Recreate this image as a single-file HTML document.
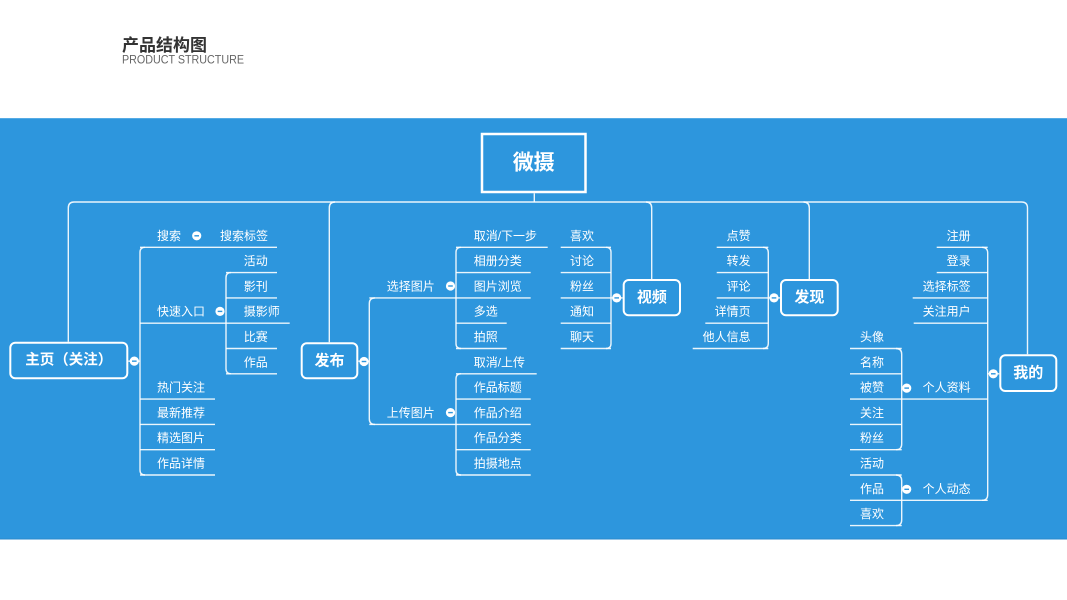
<!DOCTYPE html>
<html>
<head>
<meta charset="utf-8">
<style>
  html,body{margin:0;padding:0;background:#fff;}
  body{width:1067px;height:600px;overflow:hidden;}
  svg{display:block;}
  .t{font-family:"Liberation Sans","Noto Sans CJK SC",sans-serif;font-size:12px;fill:#fff;dominant-baseline:central;}
  .b{font-family:"Liberation Sans","Noto Sans CJK SC",sans-serif;font-size:15px;font-weight:bold;fill:#fff;dominant-baseline:central;text-anchor:middle;}
  .e{text-anchor:end;}
  .ln{stroke:#fff;stroke-opacity:.9;stroke-width:1.4;fill:none;}
  .bx{stroke:#fff;stroke-width:2;fill:none;}
</style>
</head>
<body>
<svg width="1067" height="600" viewBox="0 0 1067 600" xmlns="http://www.w3.org/2000/svg">
  <!-- header -->
  <text x="122" y="45.5" style="font-family:'Liberation Sans','Noto Sans CJK SC',sans-serif;font-size:17px;font-weight:bold;fill:#333;dominant-baseline:central;">产品结构图</text>
  <text x="122" y="60.5" textLength="122" lengthAdjust="spacingAndGlyphs" style="font-family:'Liberation Sans','Noto Sans CJK SC',sans-serif;font-size:11.5px;fill:#666;dominant-baseline:central;">PRODUCT STRUCTURE</text>

  <!-- blue band -->
  <rect x="0" y="118" width="1067" height="421.5" fill="#2d96dd"/>
  <line x1="0" y1="118.5" x2="1067" y2="118.5" stroke="#55abe5" stroke-width="1"/>
  <line x1="0" y1="539" x2="1067" y2="539" stroke="#2a89cc" stroke-width="1"/>

  <!-- root -->
  <rect x="482" y="134" width="103.5" height="58" fill="none" stroke="#fff" stroke-width="2.5"/>
  <text class="b" x="533.7" y="163" style="font-size:21px;">微摄</text>

  <!-- top connectors -->
  <path class="ln" d="M534.3,193.3 V202"/>
  <path class="ln" d="M74,202 H1021.5"/>
  <path class="ln" d="M74,202 Q68.3,202 68.3,208 V341.7"/>
  <path class="ln" d="M1021.5,202 Q1027.5,202 1027.5,208 V354.3"/>
  <path class="ln" d="M335,202 Q329.3,202 329.3,208 V342.3"/>
  <path class="ln" d="M646,202 Q651.7,202 651.7,208 V279"/>
  <path class="ln" d="M803.5,202 Q809.3,202 809.3,208 V279"/>

  <!-- main boxes -->
  <rect class="bx" x="10.3" y="342.7" width="117" height="35.6" rx="5"/>
  <text class="b" x="68.8" y="360.5" style="font-size:14.5px;">主页（关注）</text>
  <rect class="bx" x="301.7" y="343.3" width="55.6" height="35" rx="5"/>
  <text class="b" x="329.5" y="360.8">发布</text>
  <rect class="bx" x="623.7" y="280" width="56.3" height="35.3" rx="5"/>
  <text class="b" x="651.9" y="297.7">视频</text>
  <rect class="bx" x="781" y="280" width="56.7" height="35.3" rx="5"/>
  <text class="b" x="809.4" y="297.7">发现</text>
  <rect class="bx" x="1000.3" y="355.3" width="56" height="35.7" rx="5"/>
  <text class="b" x="1028.3" y="373.2">我的</text>

  <!-- ===== 主页 group ===== -->
  <path class="ln" d="M128.3,361.15 H140"/>
  <path class="ln" d="M145,247.3 Q140,247.3 140,252.3 V470 Q140,475 145,475"/>
  <path class="ln" d="M140,247.3 H277"/>
  <path class="ln" d="M140,323.2 H289.7"/>
  <path class="ln" d="M140,399.1 H215"/>
  <path class="ln" d="M140,424.4 H215"/>
  <path class="ln" d="M140,449.7 H215"/>
  <path class="ln" d="M140,475 H215"/>
  <!-- 快速入口 children -->
  <path class="ln" d="M231,272.6 Q226,272.6 226,277.6 V368.8 Q226,373.8 231,373.8"/>
  <path class="ln" d="M226,272.6 H277"/>
  <path class="ln" d="M226,297.9 H277"/>
  <path class="ln" d="M226,348.5 H277"/>
  <path class="ln" d="M226,373.8 H277"/>

  <text class="t" x="157" y="235.8">搜索</text>
  <text class="t" x="220" y="235.8">搜索标签</text>
  <text class="t" x="157" y="311.7">快速入口</text>
  <text class="t" x="157" y="387.6">热门关注</text>
  <text class="t" x="157" y="412.9">最新推荐</text>
  <text class="t" x="157" y="438.2">精选图片</text>
  <text class="t" x="157" y="463.5">作品详情</text>
  <text class="t" x="243.7" y="261.1">活动</text>
  <text class="t" x="243.7" y="286.4">影刊</text>
  <text class="t" x="243.7" y="311.7">摄影师</text>
  <text class="t" x="243.7" y="337">比赛</text>
  <text class="t" x="243.7" y="362.3">作品</text>

  <!-- ===== 发布 group ===== -->
  <path class="ln" d="M358.3,361.15 H369.3"/>
  <path class="ln" d="M375,297.9 Q369.3,297.9 369.3,303.6 V418.7 Q369.3,424.4 375,424.4"/>
  <path class="ln" d="M369.3,297.9 H530.7"/>
  <path class="ln" d="M369.3,424.4 H530.7"/>
  <path class="ln" d="M461,247.3 Q456,247.3 456,252.3 V343.5 Q456,348.5 461,348.5"/>
  <path class="ln" d="M461,373.8 Q456,373.8 456,378.8 V470 Q456,475 461,475"/>
  <path class="ln" d="M456,247.3 H547.7"/>
  <path class="ln" d="M456,272.6 H530.7"/>
  <path class="ln" d="M456,323.2 H506.7"/>
  <path class="ln" d="M456,348.5 H506.7"/>
  <path class="ln" d="M456,373.8 H536.7"/>
  <path class="ln" d="M456,399.1 H530.7"/>
  <path class="ln" d="M456,449.7 H530.7"/>
  <path class="ln" d="M456,475 H530.7"/>

  <text class="t" x="386.7" y="286.4">选择图片</text>
  <text class="t" x="386.7" y="412.9">上传图片</text>
  <text class="t" x="473.7" y="235.8">取消/下一步</text>
  <text class="t" x="473.7" y="261.1">相册分类</text>
  <text class="t" x="473.7" y="286.4">图片浏览</text>
  <text class="t" x="473.7" y="311.7">多选</text>
  <text class="t" x="473.7" y="337">拍照</text>
  <text class="t" x="473.7" y="362.3">取消/上传</text>
  <text class="t" x="473.7" y="387.6">作品标题</text>
  <text class="t" x="473.7" y="412.9">作品介绍</text>
  <text class="t" x="473.7" y="438.2">作品分类</text>
  <text class="t" x="473.7" y="463.5">拍摄地点</text>

  <!-- ===== 视频 group ===== -->
  <path class="ln" d="M611,297.9 H622.7"/>
  <path class="ln" d="M606,247.3 Q611,247.3 611,252.3 V343.5 Q611,348.5 606,348.5"/>
  <path class="ln" d="M560.7,247.3 H611"/>
  <path class="ln" d="M560.7,272.6 H611"/>
  <path class="ln" d="M560.7,297.9 H611"/>
  <path class="ln" d="M560.7,323.2 H611"/>
  <path class="ln" d="M560.7,348.5 H611"/>
  <text class="t" x="570" y="235.8">喜欢</text>
  <text class="t" x="570" y="261.1">讨论</text>
  <text class="t" x="570" y="286.4">粉丝</text>
  <text class="t" x="570" y="311.7">通知</text>
  <text class="t" x="570" y="337">聊天</text>

  <!-- ===== 发现 group ===== -->
  <path class="ln" d="M768.3,297.9 H780"/>
  <path class="ln" d="M763,247.3 Q768.3,247.3 768.3,252.6 V343.2 Q768.3,348.5 763,348.5"/>
  <path class="ln" d="M716.7,247.3 H768.3"/>
  <path class="ln" d="M716.7,272.6 H768.3"/>
  <path class="ln" d="M716.7,297.9 H768.3"/>
  <path class="ln" d="M705.3,323.2 H768.3"/>
  <path class="ln" d="M692.7,348.5 H768.3"/>
  <text class="t e" x="750.7" y="235.8">点赞</text>
  <text class="t e" x="750.7" y="261.1">转发</text>
  <text class="t e" x="750.7" y="286.4">评论</text>
  <text class="t e" x="750.7" y="311.7">详情页</text>
  <text class="t e" x="750.7" y="337">他人信息</text>

  <!-- ===== 我的 group ===== -->
  <path class="ln" d="M987.7,373.8 H999.3"/>
  <path class="ln" d="M982,247.3 Q987.7,247.3 987.7,253 V494.6 Q987.7,500.3 982,500.3"/>
  <path class="ln" d="M936.7,247.3 H987.7"/>
  <path class="ln" d="M936.7,272.6 H987.7"/>
  <path class="ln" d="M912.7,297.9 H987.7"/>
  <path class="ln" d="M913.7,323.2 H987.7"/>
  <path class="ln" d="M850,399.1 H987.7"/>
  <path class="ln" d="M850,500.3 H987.7"/>
  <path class="ln" d="M896,348.5 Q901.7,348.5 901.7,354.2 V444 Q901.7,449.7 896,449.7"/>
  <path class="ln" d="M850,348.5 H901.7"/>
  <path class="ln" d="M850,373.8 H901.7"/>
  <path class="ln" d="M850,424.4 H901.7"/>
  <path class="ln" d="M850,449.7 H901.7"/>
  <path class="ln" d="M896,475 Q901.7,475 901.7,480.7 V519.9 Q901.7,525.6 896,525.6"/>
  <path class="ln" d="M850,475 H901.7"/>
  <path class="ln" d="M850,525.6 H901.7"/>

  <text class="t e" x="970.7" y="235.8">注册</text>
  <text class="t e" x="970.7" y="261.1">登录</text>
  <text class="t e" x="970.7" y="286.4">选择标签</text>
  <text class="t e" x="970.7" y="311.7">关注用户</text>
  <text class="t e" x="970.7" y="387.6">个人资料</text>
  <text class="t e" x="970.7" y="488.8">个人动态</text>
  <text class="t" x="860" y="337">头像</text>
  <text class="t" x="860" y="362.3">名称</text>
  <text class="t" x="860" y="387.6">被赞</text>
  <text class="t" x="860" y="412.9">关注</text>
  <text class="t" x="860" y="438.2">粉丝</text>
  <text class="t" x="860" y="463.5">活动</text>
  <text class="t" x="860" y="488.8">作品</text>
  <text class="t" x="860" y="514.1">喜欢</text>

  <!-- collapse circles -->
  <g fill="#fff">
    <circle cx="134.3" cy="361.15" r="4.6"/>
    <circle cx="196.7" cy="235.8" r="4.6"/>
    <circle cx="220" cy="311.4" r="4.6"/>
    <circle cx="364" cy="361.5" r="4.6"/>
    <circle cx="450.5" cy="286" r="4.6"/>
    <circle cx="450.5" cy="412.6" r="4.6"/>
    <circle cx="616.7" cy="297.9" r="4.6"/>
    <circle cx="774" cy="297.9" r="4.6"/>
    <circle cx="993.3" cy="373.8" r="4.6"/>
    <circle cx="906.7" cy="388.1" r="4.6"/>
    <circle cx="906.7" cy="489.3" r="4.6"/>
  </g>
  <g stroke="#2d96dd" stroke-width="1.4">
    <line x1="132" y1="361.15" x2="136.6" y2="361.15"/>
    <line x1="194.4" y1="235.8" x2="199" y2="235.8"/>
    <line x1="217.7" y1="311.4" x2="222.3" y2="311.4"/>
    <line x1="361.7" y1="361.5" x2="366.3" y2="361.5"/>
    <line x1="448.2" y1="286" x2="452.8" y2="286"/>
    <line x1="448.2" y1="412.6" x2="452.8" y2="412.6"/>
    <line x1="614.4" y1="297.9" x2="619" y2="297.9"/>
    <line x1="771.7" y1="297.9" x2="776.3" y2="297.9"/>
    <line x1="991" y1="373.8" x2="995.6" y2="373.8"/>
    <line x1="904.4" y1="388.1" x2="909" y2="388.1"/>
    <line x1="904.4" y1="489.3" x2="909" y2="489.3"/>
  </g>
</svg>
</body>
</html>
